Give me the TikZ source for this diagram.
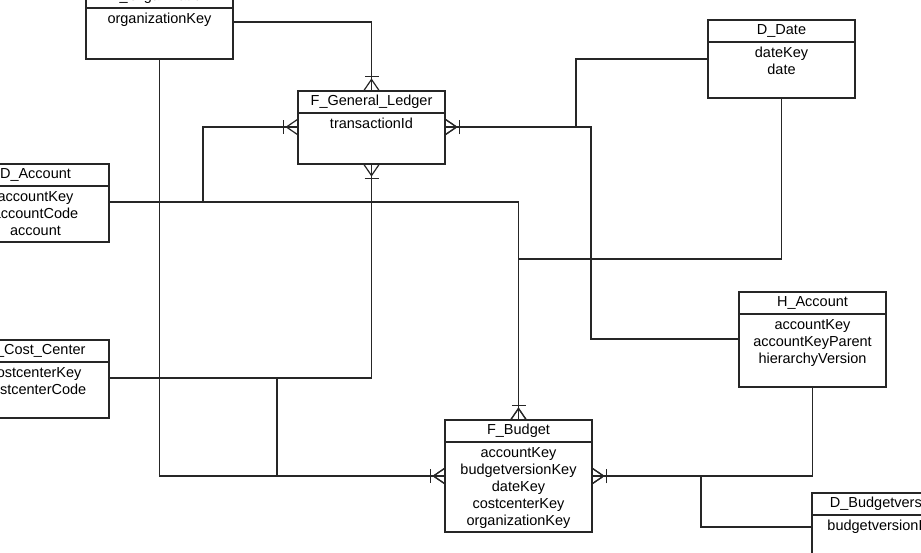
\documentclass[tikz,border=0pt]{standalone}
\usepackage{fontspec}
\setmainfont{Liberation Sans}
\usetikzlibrary{positioning,arrows.meta}
\newcommand{\fields}[2]{\parbox[t][#2pt][t]{147pt}{\centering\rule{0pt}{15pt}#1}}

\begin{document}
\begin{tikzpicture}[x=1pt, y=-1pt, line width=1.2pt, draw=black!85,
    font=\fontsize{14.5}{17}\selectfont,
    head/.style={draw, anchor=north west, minimum width=147pt, minimum height=22pt, inner sep=0pt, outer sep=0pt},
    body/.style={draw, below=0pt of #1, inner sep=0pt, outer sep=0pt},
    crow/.style={postaction={draw, -{Bar[width=14pt, sep=1pt] Straight Barb[reversed, length=11pt, width=15pt]}}}]
        \useasboundingbox (0,0) rectangle (921,552);
        \clip (0,0) rectangle (921,552);

        \node[head] (org) at (86,-14) {D\_Organization};
        \node[body=org] (orgb) {\fields{organizationKey}{51}};
        \node[head] (gl) at (298,91) {F\_General\_Ledger};
        \node[body=gl] (glb) {\fields{transactionId}{51}};
        \node[head] (date) at (708,20) {D\_Date};
        \node[body=date] (dateb) {\fields{dateKey\\date}{56}};
        \node[head] (acc) at (-38,164) {D\_Account};
        \node[body=acc] (accb) {\fields{accountKey\\accountCode\\account}{56}};
        \node[head] (cc) at (-38,340) {D\_Cost\_Center};
        \node[body=cc] (ccb) {\fields{costcenterKey\\costcenterCode}{56}};
        \node[head] (hacc) at (739,292) {H\_Account};
        \node[body=hacc] (haccb) {\fields{accountKey\\accountKeyParent\\hierarchyVersion}{73}};
        \node[head] (bud) at (445,420) {F\_Budget};
        \node[body=bud] (budb) {\fields{accountKey\\budgetversionKey\\dateKey\\costcenterKey\\organizationKey}{90}};
        \node[head] (bv) at (812,493) {D\_Budgetversion};
        \node[body=bv] (bvb) {\fields{budgetversionKey}{56}};

        % relations into F_General_Ledger
        \draw[crow] ([yshift=-14pt]orgb.north east) -| (gl.north);
        \draw[crow] ([yshift=-16pt]accb.north east) -- ++(94,0) |- ([yshift=-14pt]glb.north west);
        \draw[crow] ([yshift=-17pt]dateb.north west) -- ++(-132,0) |- ([yshift=-14pt]glb.north east);
        \draw[crow] ([yshift=-25pt]haccb.north west) -- ++(-148,0) |- ([yshift=-14pt]glb.north east);
        \draw[crow] ([yshift=-16pt]ccb.north east) -| (glb.south);

        % relations into F_Budget
        \draw[crow] ([yshift=-16pt]accb.north east) -| (bud.north);
        \draw[crow] (dateb.south) -- ++(0,161) -| (bud.north);
        \draw[crow] (haccb.south) |- ([yshift=-34pt]budb.north east);
        \draw[crow] ([yshift=-12pt]bvb.north west) -- ++(-111,0) |- ([yshift=-34pt]budb.north east);
        \draw[crow] (orgb.south) |- ([yshift=-34pt]budb.north west);
        \draw[crow] ([yshift=-16pt]ccb.north east) -- ++(168,0) |- ([yshift=-34pt]budb.north west);
    \end{tikzpicture}
\end{document}
